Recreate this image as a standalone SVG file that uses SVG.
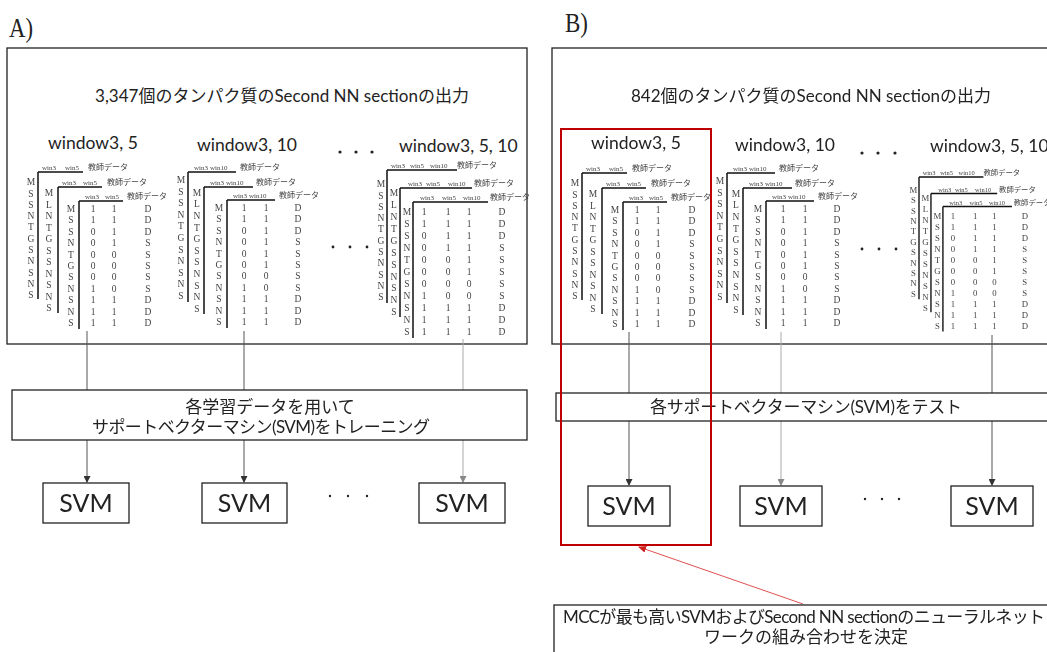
<svg xmlns="http://www.w3.org/2000/svg" xmlns:xlink="http://www.w3.org/1999/xlink" width="1047" height="652" viewBox="0 0 1047 652">
  <style>
    .box { fill: none; stroke: #222; stroke-width: 1.3; }
    .wbox { fill: #fff; stroke: #222; stroke-width: 1.3; }
    .jp { font-family: Lato, "Noto Sans CJK JP", sans-serif; fill: #222; }
    .t17 { font-size: 17px; }
    .win { font-size: 17.5px; }
    .svm { font-size: 25px; text-anchor: middle; }
    .mid { text-anchor: middle; }
    .panel { font-family: "Liberation Serif", "Noto Sans CJK JP", serif; font-size: 28px; fill: #222; }
    .dk { stroke: #555; stroke-width: 1; fill: none; }
    .lt { stroke: #aaa; stroke-width: 1; fill: none; }
    .dot { fill: #222; }
    .tbl { filter: url(#gray); }
  </style>
  <defs>
    <!-- keeps the small table text neutral grey -->
    <filter id="gray" x="-10%" y="-20%" width="130%" height="140%">
      <feColorMatrix type="saturate" values="0"/>
    </filter>
    <marker id="ahd" markerWidth="7" markerHeight="7" refX="6" refY="3.5" orient="auto" markerUnits="userSpaceOnUse">
      <path d="M0,0L7,3.5L0,7z" fill="#333"/>
    </marker>
    <marker id="ahl" markerWidth="7" markerHeight="7" refX="6" refY="3.5" orient="auto" markerUnits="userSpaceOnUse">
      <path d="M0,0L7,3.5L0,7z" fill="#888"/>
    </marker>
    <marker id="ahr" markerWidth="8" markerHeight="7" refX="7" refY="3.5" orient="auto" markerUnits="userSpaceOnUse">
      <path d="M0,0L8,3.5L0,7z" fill="#d02020"/>
    </marker>

    <!-- stacked data table: window3, 5 -->
    <g id="t35" font-family="'Liberation Serif','Noto Sans CJK JP',serif" fill="#444">
      <path d="M0,0V127M0,0H45M20,15V141M20,15H64M41,29V157M41,29H85" stroke="#111" stroke-width="1.5" fill="none"/>
      <text font-size="7"><tspan x="4" y="-2">win3</tspan><tspan x="27" y="-2">win5</tspan><tspan x="24" y="13">win3</tspan><tspan x="45" y="13">win5</tspan><tspan x="47" y="27">win3</tspan><tspan x="67" y="27">win5</tspan></text>
      <text font-size="8" font-family="'Noto Sans CJK JP',sans-serif"><tspan x="50" y="-2">教師データ</tspan><tspan x="69" y="13">教師データ</tspan><tspan x="89" y="27">教師データ</tspan></text>
      <g font-size="9.5" text-anchor="middle">
        <text x="-7 -7 -7 -7 -7 -7 -7 -7 -7 -7 -7" y="13.2 24.5 35.8 47.1 58.4 69.7 81 92.3 103.6 114.9 126.2">MSSNTGSNSNS</text>
        <text x="11 11 11 11 11 11 11 11 11 11 11" y="24.2 35.7 47.2 58.7 70.2 81.7 93.2 104.7 116.2 127.7 139.2">MLNTGSSNSNS</text>
        <text x="33 55 76 110" y="39.7">M11D</text>
        <text x="33 55 76 110" y="51.2">S11D</text>
        <text x="33 55 76 110" y="62.6">S01D</text>
        <text x="33 55 76 110" y="74.1">N01S</text>
        <text x="33 55 76 110" y="85.5">T00S</text>
        <text x="33 55 76 110" y="97">G00S</text>
        <text x="33 55 76 110" y="108.4">S00S</text>
        <text x="33 55 76 110" y="119.9">N10S</text>
        <text x="33 55 76 110" y="131.3">S11D</text>
        <text x="33 55 76 110" y="142.8">N11D</text>
        <text x="33 55 76 110" y="154.2">S11D</text>
      </g>
    </g>

    <!-- stacked data table: window3, 10 -->
    <g id="t310" font-family="'Liberation Serif','Noto Sans CJK JP',serif" fill="#444">
      <path d="M0,0V130M0,0H48M16,15V142M16,15H65M39,28V156M39,28H87" stroke="#111" stroke-width="1.5" fill="none"/>
      <text font-size="7"><tspan x="6" y="-2">win3</tspan><tspan x="22" y="-2">win10</tspan><tspan x="22" y="13">win3</tspan><tspan x="38" y="13">win10</tspan><tspan x="45" y="26">win3</tspan><tspan x="61" y="26">win10</tspan></text>
      <text font-size="8" font-family="'Noto Sans CJK JP',sans-serif"><tspan x="52" y="-2">教師データ</tspan><tspan x="68" y="13">教師データ</tspan><tspan x="91" y="26">教師データ</tspan></text>
      <g font-size="9.5" text-anchor="middle">
        <text x="-7 -7 -7 -7 -7 -7 -7 -7 -7 -7 -7" y="11.2 22.8 34.3 45.9 57.4 69 80.5 92.1 103.6 115.2 126.7">MSSNTGSNSNS</text>
        <text x="9 9 9 9 9 9 9 9 9 9 9" y="23.7 35.3 46.9 58.5 70.1 81.7 93.3 104.9 116.5 128.1 139.7">MLNTGSSNSNS</text>
        <text x="31 56 78 110" y="38.7">M11D</text>
        <text x="31 56 78 110" y="50.2">S11D</text>
        <text x="31 56 78 110" y="61.6">S01D</text>
        <text x="31 56 78 110" y="73.1">N01S</text>
        <text x="31 56 78 110" y="84.5">T01S</text>
        <text x="31 56 78 110" y="96">G01S</text>
        <text x="31 56 78 110" y="107.4">S00S</text>
        <text x="31 56 78 110" y="118.9">N10S</text>
        <text x="31 56 78 110" y="130.3">S11D</text>
        <text x="31 56 78 110" y="141.8">N11D</text>
        <text x="31 56 78 110" y="153.2">S11D</text>
      </g>
    </g>

    <!-- stacked data table: window3, 5, 10 -->
    <g id="t3510" font-family="'Liberation Serif','Noto Sans CJK JP',serif" fill="#444">
      <path d="M0,0V133M0,0H70M13,18V147M13,18H85M26,32V168M26,32H101" stroke="#111" stroke-width="1.5" fill="none"/>
      <text font-size="7"><tspan x="4" y="-2">win3</tspan><tspan x="23" y="-2">win5</tspan><tspan x="43" y="-2">win10</tspan><tspan x="21" y="16">win3</tspan><tspan x="39" y="16">win5</tspan><tspan x="61" y="16">win10</tspan><tspan x="33" y="30">win3</tspan><tspan x="55" y="30">win5</tspan><tspan x="76" y="30">win10</tspan></text>
      <text font-size="8" font-family="'Noto Sans CJK JP',sans-serif"><tspan x="70" y="-2">教師データ</tspan><tspan x="87" y="16">教師データ</tspan><tspan x="103" y="30">教師データ</tspan></text>
      <g font-size="9.5" text-anchor="middle">
        <text x="-6 -6 -6 -6 -6 -6 -6 -6 -6 -6 -6" y="17.2 28.5 39.8 51.1 62.4 73.7 85 96.3 107.6 118.9 130.2">MSSNTGSNSNS</text>
        <text x="7 7 7 7 7 7 7 7 7 7 7" y="26.2 38.1 50 61.9 73.8 85.7 97.6 109.5 121.4 133.3 145.2">MLNTGSSNSNS</text>
        <text x="20 37 61 82 115" y="45.2">M111D</text>
        <text x="20 37 61 82 115" y="57.2">S111D</text>
        <text x="20 37 61 82 115" y="69.2">S011D</text>
        <text x="20 37 61 82 115" y="81.2">N011S</text>
        <text x="20 37 61 82 115" y="93.2">T001S</text>
        <text x="20 37 61 82 115" y="105.2">G001S</text>
        <text x="20 37 61 82 115" y="117.2">S000S</text>
        <text x="20 37 61 82 115" y="129.2">N100S</text>
        <text x="20 37 61 82 115" y="141.2">S111D</text>
        <text x="20 37 61 82 115" y="153.2">N111D</text>
        <text x="20 37 61 82 115" y="165.2">S111D</text>
      </g>
    </g>
  </defs>

  <rect width="1047" height="652" fill="#fff"/>

  <!-- panel labels -->
  <text class="panel" x="9" y="37" textLength="24" lengthAdjust="spacingAndGlyphs">A)</text>
  <text class="panel" x="565" y="32" textLength="23" lengthAdjust="spacingAndGlyphs">B)</text>

  <!-- A: Second NN section outputs (training set) -->
  <g id="outputsA">
    <rect class="box" x="7" y="48" width="520" height="296"/>
    <text class="jp t17 mid" x="282" y="102">3,347個のタンパク質のSecond NN sectionの出力</text>
    <text class="jp win" x="48" y="149">window3, 5</text>
    <text class="jp win" x="197" y="151">window3, 10</text>
    <text class="jp win" x="399" y="152">window3, 5, 10</text>
    <circle class="dot" cx="340" cy="152" r="1.6"/>
    <circle class="dot" cx="356" cy="152" r="1.6"/>
    <circle class="dot" cx="372" cy="152" r="1.6"/>
    <g class="tbl">
      <use xlink:href="#t35" href="#t35" transform="translate(38,172)"/>
      <use xlink:href="#t310" href="#t310" transform="translate(188,172)"/>
      <use xlink:href="#t3510" href="#t3510" transform="translate(387,170)"/>
    </g>
    <circle class="dot" cx="333" cy="247" r="1.4"/>
    <circle class="dot" cx="350" cy="247" r="1.4"/>
    <circle class="dot" cx="367" cy="247" r="1.4"/>
  </g>

  <!-- B: Second NN section outputs (test set) -->
  <g id="outputsB">
    <rect class="box" x="552" y="48" width="520" height="296"/>
    <text class="jp t17 mid" x="811" y="102">842個のタンパク質のSecond NN sectionの出力</text>
    <text class="jp win" x="591" y="149">window3, 5</text>
    <text class="jp win" x="735" y="151">window3, 10</text>
    <text class="jp win" x="930" y="152">window3, 5, 10</text>
    <circle class="dot" cx="862" cy="153" r="1.6"/>
    <circle class="dot" cx="878" cy="153" r="1.6"/>
    <circle class="dot" cx="895" cy="153" r="1.6"/>
    <g class="tbl">
      <use xlink:href="#t35" href="#t35" transform="translate(582,173)"/>
      <use xlink:href="#t310" href="#t310" transform="translate(727,173)"/>
      <use xlink:href="#t3510" href="#t3510" transform="translate(919,177) scale(0.92)"/>
    </g>
    <circle class="dot" cx="862" cy="249" r="1.4"/>
    <circle class="dot" cx="879" cy="249" r="1.4"/>
    <circle class="dot" cx="896" cy="249" r="1.4"/>
  </g>

  <!-- connectors -->
  <g id="connectors">
    <path class="dk" d="M87,331V390M87,440V482" marker-end="url(#ahd)"/>
    <path class="dk" d="M244,331V390M244,440V482" marker-end="url(#ahd)"/>
    <path class="lt" d="M463,339V390M463,440V482" marker-end="url(#ahl)"/>
    <path class="dk" d="M629,332V393M629,421V485" marker-end="url(#ahd)"/>
    <path class="lt" d="M781,332V393M781,421V485" marker-end="url(#ahl)"/>
    <path class="dk" d="M992,335V393M992,421V485" marker-end="url(#ahd)"/>
    <line x1="803" y1="604" x2="639" y2="547" stroke="#e05050" stroke-width="1" marker-end="url(#ahr)"/>
  </g>

  <!-- A: training step -->
  <g id="trainA">
    <rect class="wbox" x="12" y="390" width="515" height="50"/>
    <text class="jp t17 mid" x="270" y="413">各学習データを用いて</text>
    <text class="jp t17 mid" x="261" y="433" textLength="338">サポートベクターマシン(SVM)をトレーニング</text>
  </g>

  <!-- A: trained SVMs -->
  <g id="svmA1"><rect class="box" x="43" y="483" width="86" height="40"/><text class="jp svm" x="86" y="512">SVM</text></g>
  <g id="svmA2"><rect class="box" x="202" y="483" width="85" height="40"/><text class="jp svm" x="244.5" y="512">SVM</text></g>
  <g id="svmA3"><rect class="box" x="419" y="483" width="86" height="40"/><text class="jp svm" x="462" y="512">SVM</text></g>
  <circle class="dot" cx="330" cy="496" r="1.2"/>
  <circle class="dot" cx="348" cy="496" r="1.2"/>
  <circle class="dot" cx="367" cy="496" r="1.2"/>

  <!-- B: test step -->
  <g id="testB">
    <rect class="wbox" x="556" y="393" width="520" height="28"/>
    <text class="jp t17 mid" x="806" y="413" textLength="312">各サポートベクターマシン(SVM)をテスト</text>
  </g>

  <!-- B: tested SVMs -->
  <g id="svmB1"><rect class="box" x="588" y="486" width="82" height="40"/><text class="jp svm" x="629" y="515">SVM</text></g>
  <g id="svmB2"><rect class="box" x="740" y="486" width="82" height="40"/><text class="jp svm" x="781" y="515">SVM</text></g>
  <g id="svmB3"><rect class="box" x="951" y="486" width="82" height="40"/><text class="jp svm" x="992" y="515">SVM</text></g>
  <circle class="dot" cx="865" cy="499" r="1.2"/>
  <circle class="dot" cx="882" cy="499" r="1.2"/>
  <circle class="dot" cx="899" cy="499" r="1.2"/>

  <!-- best combination highlight -->
  <g id="bestPick">
    <rect x="561" y="129" width="150" height="416" fill="none" stroke="#c00000" stroke-width="2"/>
  </g>

  <!-- B: decision -->
  <g id="decision">
    <rect class="wbox" x="554" y="605" width="520" height="60"/>
    <text class="jp t17 mid" x="804" y="623" textLength="482">MCCが最も高いSVMおよびSecond NN sectionのニューラルネット</text>
    <text class="jp t17 mid" x="806" y="643">ワークの組み合わせを決定</text>
  </g>
</svg>
